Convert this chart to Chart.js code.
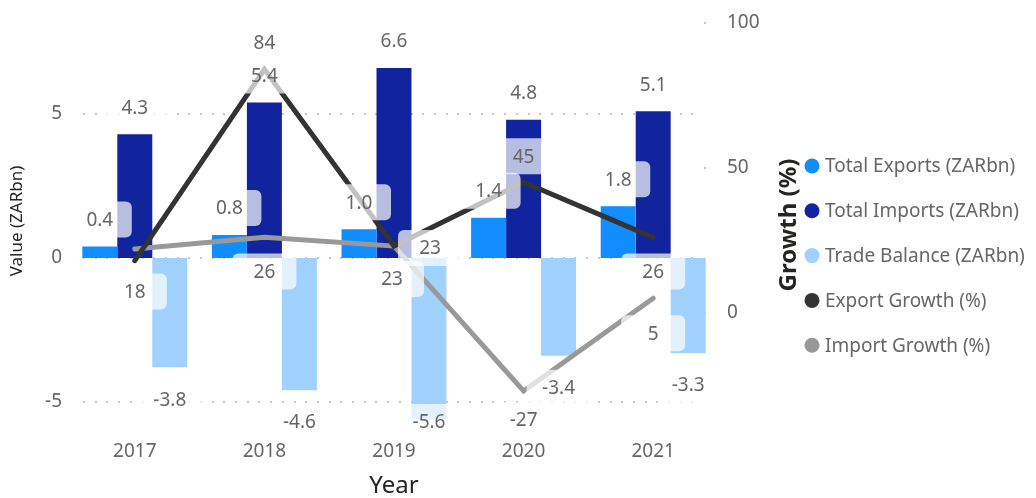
<!DOCTYPE html>
<html>
<head>
<meta charset="utf-8">
<title>Trade</title>
<script src="https://cdn.jsdelivr.net/npm/chart.js@4.4.1/dist/chart.umd.min.js"></script>
<style>
  html, body { margin: 0; padding: 0; background: #fff; }
  #wrap { width: 1036px; height: 498px; }
</style>
</head>
<body>
<div id="wrap"><canvas id="tradeChart"></canvas></div>
<script>
var years = ['2017', '2018', '2019', '2020', '2021'];
var totalExports = [0.4, 0.8, 1.0, 1.4, 1.8];
var totalImports = [4.3, 5.4, 6.6, 4.8, 5.1];
var tradeBalance = [-3.8, -4.6, -5.6, -3.4, -3.3];
var exportGrowth = [18, 84, 23, 45, 26];
var importGrowth = [22, 26, 23, -27, 5];

// where the growth labels sit relative to their point [dx, dy]; null = not shown
var exportGrowthLabelPos = [[0, 31], [0, -27], [36, 2], [0, -26], [0, 34]];
var importGrowthLabelPos = [null, [0, 34], [-2, 33], [0, 29], [0, 35]];

var FONT = '"Noto Sans", "DejaVu Sans", sans-serif';
var TICK_COLOR = '#666666';
var TITLE_COLOR = '#252423';

// dotted gridlines for the value axis, a bit inset from the plot edges
var dottedGrid = {
  id: 'dottedGrid',
  beforeDatasetsDraw: function(chart) {
    var ctx = chart.ctx;
    var area = chart.chartArea;
    var y = chart.scales.y, y1 = chart.scales.y1;
    ctx.save();
    ctx.fillStyle = '#c8c6c4';
    y.ticks.forEach(function(t) {
      var py = Math.round(y.getPixelForValue(t.value));
      for (var x = area.left + 13; x < area.right - 16; x += 11.7) {
        ctx.fillRect(Math.round(x), py - 1, 2, 2);
      }
    });
    y1.ticks.forEach(function(t) {
      var py = Math.round(y1.getPixelForValue(t.value));
      ctx.fillRect(area.right - 14, py - 1, 2, 2);
    });
    ctx.restore();
  }
};

// data labels with the half transparent white box behind them
var valueLabels = {
  id: 'valueLabels',
  afterDatasetsDraw: function(chart) {
    var ctx = chart.ctx;
    var area = chart.chartArea;
    var items = [];
    chart.data.datasets.forEach(function(ds, i) {
      var meta = chart.getDatasetMeta(i);
      meta.data.forEach(function(el, j) {
        var v = ds.data[j];
        var x = el.x, y;
        if (ds.type === 'line') {
          var p = ds.labelPos[j];
          if (!p) return;
          x += p[0];
          y = el.y + p[1];
        } else {
          y = v >= 0 ? el.y - 27 : Math.min(el.y + 32, area.bottom + 2);
        }
        items.push({ x: x, y: y, text: ds.type === 'line' ? String(v) : v.toFixed(1) });
      });
    });
    ctx.save();
    ctx.fillStyle = 'rgba(255,255,255,0.7)';
    items.forEach(function(it) {
      ctx.beginPath();
      ctx.roundRect(it.x - 32, it.y - 18, 64, 36, 6);
      ctx.fill();
    });
    ctx.font = '19px ' + FONT;
    ctx.fillStyle = TICK_COLOR;
    ctx.textAlign = 'center';
    ctx.textBaseline = 'middle';
    items.forEach(function(it) {
      ctx.fillText(it.text, it.x, it.y + 1);
    });
    ctx.restore();
  }
};

// right axis title (reads bottom to top) and the legend column beside it
var sidePanel = {
  id: 'sidePanel',
  afterDraw: function(chart) {
    var ctx = chart.ctx;
    var area = chart.chartArea;
    ctx.save();
    ctx.translate(789, (area.top + area.bottom) / 2 + 4);
    ctx.rotate(-Math.PI / 2);
    ctx.font = 'bold 24px ' + FONT;
    ctx.fillStyle = TITLE_COLOR;
    ctx.textAlign = 'center';
    ctx.textBaseline = 'middle';
    ctx.fillText('Growth (%)', 0, 0);
    ctx.restore();

    var items = Chart.defaults.plugins.legend.labels.generateLabels(chart);
    items.sort(function(a, b) { return a.datasetIndex - b.datasetIndex; });
    ctx.save();
    ctx.font = '19px ' + FONT;
    ctx.textBaseline = 'middle';
    ctx.textAlign = 'left';
    items.forEach(function(it, k) {
      var ds = chart.data.datasets[it.datasetIndex];
      var y = 166 + k * 44.8;
      ctx.fillStyle = ds.backgroundColor;
      ctx.beginPath();
      ctx.arc(812, y, 7.5, 0, Math.PI * 2);
      ctx.fill();
      ctx.fillStyle = TICK_COLOR;
      ctx.fillText(it.text, 825, y + 1);
    });
    ctx.restore();
  }
};

var ctx = document.getElementById('tradeChart').getContext('2d');
var chart = new Chart(ctx, {
  data: {
    labels: years,
    datasets: [
      {
        type: 'bar', label: 'Total Exports (ZARbn)', data: totalExports,
        backgroundColor: '#118DFF', yAxisID: 'y', order: 1
      },
      {
        type: 'bar', label: 'Total Imports (ZARbn)', data: totalImports,
        backgroundColor: '#12239E', yAxisID: 'y', order: 1
      },
      {
        type: 'bar', label: 'Trade Balance (ZARbn)', data: tradeBalance,
        backgroundColor: '#A0D1FF', yAxisID: 'y', order: 1
      },
      {
        type: 'line', label: 'Export Growth (%)', data: exportGrowth,
        borderColor: '#333333', backgroundColor: '#333333', borderWidth: 5,
        pointRadius: 0, borderCapStyle: 'round', yAxisID: 'y1', order: 0,
        labelPos: exportGrowthLabelPos
      },
      {
        type: 'line', label: 'Import Growth (%)', data: importGrowth,
        borderColor: '#999999', backgroundColor: '#999999', borderWidth: 5,
        pointRadius: 0, borderCapStyle: 'round', yAxisID: 'y1', order: 0,
        labelPos: importGrowthLabelPos
      }
    ]
  },
  options: {
    responsive: true,
    maintainAspectRatio: false,
    animation: false,
    layout: { padding: { top: 22, right: 256, bottom: 0, left: 0 } },
    datasets: {
      bar: { categoryPercentage: 0.81, barPercentage: 1 }
    },
    plugins: {
      tooltip: { enabled: false },
      legend: { display: false }
    },
    scales: {
      x: {
        grid: { display: false, drawTicks: false },
        border: { display: false },
        ticks: { color: TICK_COLOR, font: { family: FONT, size: 19 }, padding: 20 },
        title: {
          display: true, text: 'Year', color: TITLE_COLOR,
          font: { family: FONT, size: 24, lineHeight: 1 },
          padding: { top: 11, bottom: 0 }
        },
        afterFit: function(s) { s.height = 78; }
      },
      y: {
        position: 'left',
        min: -5.63,
        max: 8.2,
        ticks: { stepSize: 5, includeBounds: false, padding: 8, color: TICK_COLOR, font: { family: FONT, size: 19 } },
        grid: { display: false, drawTicks: false },
        border: { display: false },
        title: {
          display: true, text: 'Value (ZARbn)', color: TITLE_COLOR,
          font: { family: FONT, size: 17, lineHeight: 1 },
          padding: { top: 9, bottom: 0 }
        },
        afterFit: function(s) { s.width = 70; }
      },
      y1: {
        position: 'right',
        min: -37,
        max: 100.3,
        ticks: { stepSize: 50, includeBounds: false, padding: 9, color: TICK_COLOR, font: { family: FONT, size: 19 } },
        grid: { drawOnChartArea: false, drawTicks: false },
        border: { display: false },
        afterFit: function(s) { s.width = 62; }
      }
    }
  },
  plugins: [dottedGrid, valueLabels, sidePanel]
});
</script>
</body>
</html>
